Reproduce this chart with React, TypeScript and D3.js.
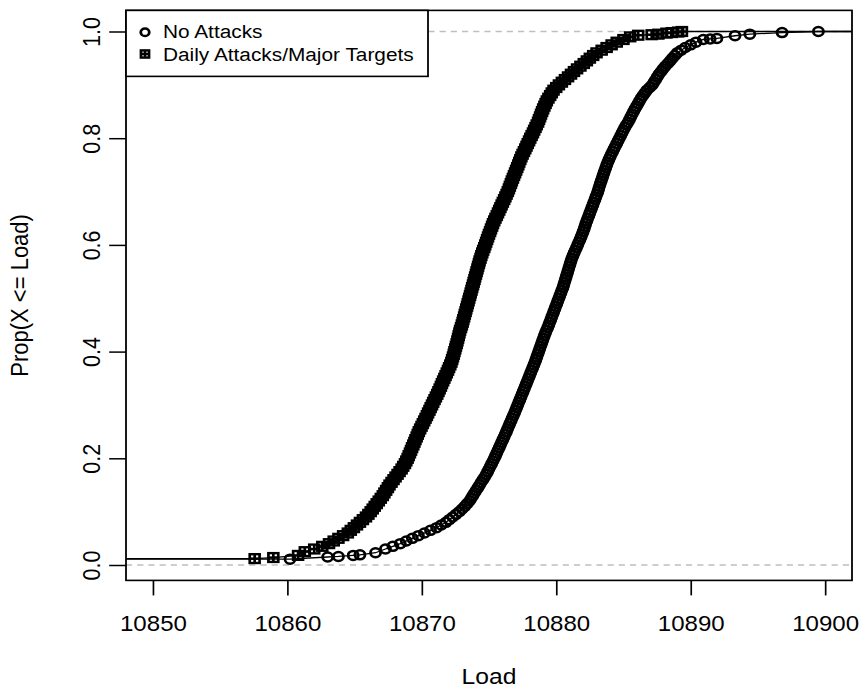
import React, { useEffect, useRef } from "react";
import * as d3 from "d3";

// ---------- data ----------
const xTicks = [10850, 10860, 10870, 10880, 10890, 10900];
const yTicks = [0, 0.2, 0.4, 0.6, 0.8, 1.0];
const xLimits = [10850, 10900];
const yLimits = [0.0107, 1.0];
const refLines = [0, 1];
const legendLabels = ["No Attacks", "Daily Attacks/Major Targets"];
const xLabel = "Load";
const yLabel = "Prop(X <= Load)";

// [load, cumulative proportion]
const noAttacks: [number, number][] = [
  [10860.2, 0.011], [10863.0, 0.015], [10863.8, 0.016], [10864.9, 0.018], [10865.4, 0.019], [10866.56, 0.023],
  [10867.3, 0.03], [10867.85, 0.035], [10868.4, 0.04], [10868.85, 0.045], [10869.3, 0.05], [10869.75, 0.055],
  [10870.2, 0.06], [10870.65, 0.065], [10871.1, 0.07], [10871.45, 0.075], [10871.8, 0.08], [10872.05, 0.085],
  [10872.3, 0.09], [10872.55, 0.095], [10872.8, 0.1], [10873.0, 0.105], [10873.2, 0.11], [10873.38, 0.115],
  [10873.55, 0.12], [10873.68, 0.125], [10873.8, 0.13], [10873.92, 0.135], [10874.05, 0.14], [10874.18, 0.145],
  [10874.3, 0.15], [10874.42, 0.155], [10874.55, 0.16], [10874.68, 0.165], [10874.8, 0.17], [10874.9, 0.175],
  [10875.0, 0.18], [10875.1, 0.185], [10875.2, 0.19], [10875.3, 0.195], [10875.4, 0.2], [10875.49, 0.205],
  [10875.58, 0.21], [10875.67, 0.215], [10875.76, 0.22], [10875.85, 0.225], [10875.94, 0.23], [10876.03, 0.235],
  [10876.12, 0.24], [10876.21, 0.245], [10876.3, 0.25], [10876.38, 0.255], [10876.47, 0.26], [10876.55, 0.265],
  [10876.64, 0.27], [10876.72, 0.275], [10876.81, 0.28], [10876.9, 0.285], [10876.98, 0.29], [10877.06, 0.295],
  [10877.14, 0.3], [10877.22, 0.305], [10877.3, 0.31], [10877.38, 0.315], [10877.46, 0.32], [10877.54, 0.325],
  [10877.62, 0.33], [10877.7, 0.335], [10877.78, 0.34], [10877.86, 0.345], [10877.94, 0.35], [10878.02, 0.355],
  [10878.1, 0.36], [10878.18, 0.365], [10878.26, 0.37], [10878.34, 0.375], [10878.42, 0.38], [10878.49, 0.385],
  [10878.56, 0.39], [10878.63, 0.395], [10878.7, 0.4], [10878.77, 0.405], [10878.84, 0.41], [10878.91, 0.415],
  [10878.98, 0.42], [10879.05, 0.425], [10879.12, 0.43], [10879.2, 0.435], [10879.28, 0.44], [10879.37, 0.445],
  [10879.45, 0.45], [10879.52, 0.455], [10879.6, 0.46], [10879.67, 0.465], [10879.75, 0.47], [10879.82, 0.475],
  [10879.9, 0.48], [10879.97, 0.485], [10880.05, 0.49], [10880.12, 0.495], [10880.2, 0.5], [10880.27, 0.505],
  [10880.35, 0.51], [10880.42, 0.515], [10880.5, 0.52], [10880.56, 0.525], [10880.62, 0.53], [10880.68, 0.535],
  [10880.74, 0.54], [10880.8, 0.545], [10880.86, 0.55], [10880.92, 0.555], [10880.98, 0.56], [10881.04, 0.565],
  [10881.1, 0.57], [10881.17, 0.575], [10881.25, 0.58], [10881.33, 0.585], [10881.42, 0.59], [10881.51, 0.595],
  [10881.6, 0.6], [10881.68, 0.605], [10881.77, 0.61], [10881.85, 0.615], [10881.93, 0.62], [10882.0, 0.625],
  [10882.08, 0.63], [10882.14, 0.635], [10882.2, 0.64], [10882.28, 0.645], [10882.35, 0.65], [10882.43, 0.655],
  [10882.5, 0.66], [10882.58, 0.665], [10882.65, 0.67], [10882.73, 0.675], [10882.8, 0.68], [10882.88, 0.685],
  [10882.95, 0.69], [10883.03, 0.695], [10883.1, 0.7], [10883.16, 0.705], [10883.22, 0.71], [10883.28, 0.715],
  [10883.35, 0.72], [10883.42, 0.725], [10883.48, 0.73], [10883.55, 0.735], [10883.62, 0.74], [10883.69, 0.745],
  [10883.76, 0.75], [10883.84, 0.755], [10883.92, 0.76], [10884.01, 0.765], [10884.1, 0.77], [10884.2, 0.775],
  [10884.3, 0.78], [10884.4, 0.785], [10884.5, 0.79], [10884.6, 0.795], [10884.7, 0.8], [10884.8, 0.805],
  [10884.9, 0.81], [10885.0, 0.815], [10885.1, 0.82], [10885.22, 0.825], [10885.35, 0.83], [10885.45, 0.835],
  [10885.55, 0.84], [10885.65, 0.845], [10885.75, 0.85], [10885.86, 0.855], [10885.98, 0.86], [10886.09, 0.865],
  [10886.2, 0.87], [10886.32, 0.875], [10886.45, 0.88], [10886.6, 0.885], [10886.75, 0.89], [10886.95, 0.895],
  [10887.15, 0.9], [10887.28, 0.905], [10887.4, 0.91], [10887.52, 0.915], [10887.65, 0.92], [10887.8, 0.925],
  [10887.95, 0.93], [10888.12, 0.935], [10888.3, 0.94], [10888.48, 0.945], [10888.65, 0.95], [10888.82, 0.955],
  [10889.0, 0.96], [10889.3, 0.965], [10889.6, 0.97], [10890.0, 0.975], [10890.4, 0.98],
  [10890.94, 0.985], [10891.45, 0.986], [10891.95, 0.987], [10893.3, 0.992], [10894.4, 0.995], [10896.8, 0.998],
  [10899.5, 1.0],
];

const dailyAttacks: [number, number][] = [
  [10857.57, 0.012], [10858.96, 0.014], [10860.8, 0.018], [10861.3, 0.025],
  [10862.0, 0.03], [10862.6, 0.035], [10863.1, 0.04], [10863.45, 0.045], [10863.8, 0.05], [10864.15, 0.055],
  [10864.5, 0.06], [10864.72, 0.065], [10864.95, 0.07], [10865.18, 0.075], [10865.4, 0.08], [10865.62, 0.085],
  [10865.85, 0.09], [10866.03, 0.095], [10866.2, 0.1], [10866.35, 0.105], [10866.5, 0.11], [10866.65, 0.115],
  [10866.8, 0.12], [10866.95, 0.125], [10867.1, 0.13], [10867.22, 0.135], [10867.35, 0.14], [10867.48, 0.145],
  [10867.6, 0.15], [10867.75, 0.155], [10867.9, 0.16], [10868.05, 0.165], [10868.2, 0.17], [10868.35, 0.175],
  [10868.5, 0.18], [10868.62, 0.185], [10868.75, 0.19], [10868.85, 0.195], [10868.95, 0.2], [10869.03, 0.205],
  [10869.12, 0.21], [10869.2, 0.215], [10869.28, 0.22], [10869.37, 0.225], [10869.45, 0.23], [10869.53, 0.235],
  [10869.62, 0.24], [10869.7, 0.245], [10869.78, 0.25], [10869.88, 0.255], [10869.98, 0.26], [10870.08, 0.265],
  [10870.18, 0.27], [10870.28, 0.275], [10870.38, 0.28], [10870.47, 0.285], [10870.57, 0.29], [10870.66, 0.295],
  [10870.76, 0.3], [10870.85, 0.305], [10870.95, 0.31], [10871.05, 0.315], [10871.15, 0.32], [10871.24, 0.325],
  [10871.33, 0.33], [10871.42, 0.335], [10871.5, 0.34], [10871.59, 0.345], [10871.68, 0.35], [10871.77, 0.355],
  [10871.86, 0.36], [10871.95, 0.365], [10872.03, 0.37], [10872.12, 0.375], [10872.2, 0.38], [10872.26, 0.385],
  [10872.32, 0.39], [10872.38, 0.395], [10872.43, 0.4], [10872.49, 0.405], [10872.54, 0.41], [10872.6, 0.415],
  [10872.65, 0.42], [10872.7, 0.425], [10872.75, 0.43], [10872.8, 0.435], [10872.85, 0.44], [10872.92, 0.445],
  [10872.98, 0.45], [10873.04, 0.455], [10873.09, 0.46], [10873.15, 0.465], [10873.2, 0.47], [10873.26, 0.475],
  [10873.31, 0.48], [10873.37, 0.485], [10873.42, 0.49], [10873.48, 0.495], [10873.53, 0.5], [10873.59, 0.505],
  [10873.64, 0.51], [10873.7, 0.515], [10873.75, 0.52], [10873.81, 0.525], [10873.86, 0.53], [10873.92, 0.535],
  [10873.97, 0.54], [10874.03, 0.545], [10874.08, 0.55], [10874.14, 0.555], [10874.19, 0.56], [10874.25, 0.565],
  [10874.3, 0.57], [10874.37, 0.575], [10874.43, 0.58], [10874.5, 0.585], [10874.57, 0.59], [10874.65, 0.595],
  [10874.72, 0.6], [10874.79, 0.605], [10874.86, 0.61], [10874.93, 0.615], [10875.0, 0.62], [10875.08, 0.625],
  [10875.15, 0.63], [10875.23, 0.635], [10875.3, 0.64], [10875.39, 0.645], [10875.48, 0.65], [10875.58, 0.655],
  [10875.67, 0.66], [10875.76, 0.665], [10875.85, 0.67], [10875.94, 0.675], [10876.03, 0.68], [10876.13, 0.685],
  [10876.22, 0.69], [10876.31, 0.695], [10876.4, 0.7], [10876.48, 0.705], [10876.55, 0.71], [10876.63, 0.715],
  [10876.7, 0.72], [10876.78, 0.725], [10876.86, 0.73], [10876.94, 0.735], [10877.02, 0.74], [10877.1, 0.745],
  [10877.18, 0.75], [10877.25, 0.755], [10877.33, 0.76], [10877.41, 0.765], [10877.5, 0.77], [10877.6, 0.775],
  [10877.7, 0.78], [10877.79, 0.785], [10877.88, 0.79], [10877.98, 0.795], [10878.07, 0.8], [10878.17, 0.805],
  [10878.27, 0.81], [10878.36, 0.815], [10878.46, 0.82], [10878.55, 0.825], [10878.65, 0.83], [10878.72, 0.835],
  [10878.8, 0.84], [10878.87, 0.845], [10878.95, 0.85], [10879.03, 0.855], [10879.12, 0.86], [10879.21, 0.865],
  [10879.3, 0.87], [10879.42, 0.875], [10879.55, 0.88], [10879.67, 0.885], [10879.8, 0.89], [10880.0, 0.895],
  [10880.2, 0.9], [10880.42, 0.905], [10880.65, 0.91], [10880.88, 0.915], [10881.1, 0.92], [10881.32, 0.925],
  [10881.55, 0.93], [10881.8, 0.935], [10882.05, 0.94], [10882.28, 0.945], [10882.5, 0.95], [10882.75, 0.955],
  [10883.0, 0.96], [10883.38, 0.965], [10883.75, 0.97], [10884.12, 0.975], [10884.5, 0.98], [10885.0, 0.985],
  [10885.5, 0.99], [10886.1, 0.993],
  [10887.1, 0.994], [10887.6, 0.995], [10888.2, 0.997], [10888.6, 0.998], [10889.07, 0.999], [10889.35, 1.0],
];

// ---------- layout ----------
const W = 865;
const H = 689;
const SX = 1.12; // horizontal stretch of the original rendering
const VW = W / SX;
const plot = { left: 126 / SX, right: 852 / SX };
const FONT = "'Liberation Sans', Arial, Helvetica, sans-serif";

function pad(lim: number[]) {
  const r = lim[1] - lim[0];
  return [lim[0] - 0.04 * r, lim[1] + 0.04 * r];
}

function Circle({ cx, cy, r = 4.5 }: { cx: number; cy: number; r?: number }) {
  return <circle cx={cx} cy={cy} r={r} fill="none" stroke="#000" strokeWidth={2.5} />;
}

function BoxPlus({ cx, cy, s = 4.4 }: { cx: number; cy: number; s?: number }) {
  return (
    <g transform={`translate(${cx},${cy})`} fill="none" stroke="#000" strokeWidth={2.4}>
      <rect x={-s} y={-s} width={2 * s} height={2 * s} />
      <line x1={-s} x2={s} y1={0} y2={0} />
      <line x1={0} x2={0} y1={-s} y2={s} />
    </g>
  );
}

export default function App() {
  const gx = useRef<SVGGElement>(null);
  const gy = useRef<SVGGElement>(null);

  const yDom = pad(yLimits);
  const yTop = 31.5 - (yDom[1] - 1) * 533.5;
  const yBot = 565 + (0 - yDom[0]) * 533.5;

  const x = d3.scaleLinear().domain(pad(xLimits)).range([plot.left, plot.right]);
  const y = d3.scaleLinear().domain(yDom).range([yBot, yTop]);

  useEffect(() => {
    if (gx.current) {
      const g = d3.select(gx.current);
      g.selectAll("*").remove();
      g.call(d3.axisBottom(x).tickValues(xTicks).tickSize(15).tickFormat(d3.format("d")) as any);
      g.select(".domain").remove();
      g.selectAll(".tick line").attr("stroke", "#000").attr("stroke-width", 1.5);
      g.selectAll(".tick text")
        .attr("y", 50.2)
        .attr("dy", null)
        .attr("fill", "#000")
        .style("font-family", FONT)
        .style("font-size", "21.5px");
    }
    if (gy.current) {
      const g = d3.select(gy.current);
      g.selectAll("*").remove();
      g.call(d3.axisLeft(y).tickValues(yTicks).tickSize(15).tickFormat(d3.format(".1f")) as any);
      g.select(".domain").remove();
      g.selectAll(".tick line").attr("stroke", "#000").attr("stroke-width", 1.5);
      g.selectAll(".tick text")
        .attr("x", 0)
        .attr("y", -23.2)
        .attr("dy", null)
        .attr("transform", "rotate(-90)")
        .attr("text-anchor", "middle")
        .attr("fill", "#000")
        .style("font-family", FONT)
        .style("font-size", "21.5px");
    }
  });

  const xd = x.domain();
  const line = d3
    .line<[number, number]>()
    .x((d) => x(d[0]))
    .y((d) => y(d[1]));
  const withTails = (s: [number, number][]): [number, number][] => [
    [xd[0], s[0][1]],
    ...s,
    [xd[1], s[s.length - 1][1]],
  ];

  const legX = plot.left;
  const legY = yTop;
  const legW = (428 - 126) / SX;
  const legH = 66;

  return (
    <svg
      width={W}
      height={H}
      viewBox={`0 0 ${VW} ${H}`}
      preserveAspectRatio="none"
      style={{ position: "absolute", left: 0, top: 0, background: "#fff" }}
    >
      <rect x={0} y={0} width={VW} height={H} fill="#fff" />
      {/* reference lines */}
      {refLines.map((v) => (
        <line
          key={v}
          x1={plot.left}
          x2={plot.right}
          y1={y(v)}
          y2={y(v)}
          stroke="#bebebe"
          strokeWidth={1.5}
          strokeDasharray="5.5,4.5"
        />
      ))}
      {/* series lines */}
      <path d={line(withTails(noAttacks)) || ""} fill="none" stroke="#000" strokeWidth={1.3} />
      <path d={line(withTails(dailyAttacks)) || ""} fill="none" stroke="#000" strokeWidth={1.3} />
      {/* markers */}
      <g>
        {noAttacks.map((d, i) => (
          <Circle key={"n" + i} cx={x(d[0])} cy={y(d[1])} />
        ))}
      </g>
      <g>
        {dailyAttacks.map((d, i) => (
          <BoxPlus key={"d" + i} cx={x(d[0])} cy={y(d[1])} />
        ))}
      </g>
      {/* plot box */}
      <rect
        x={plot.left}
        y={yTop}
        width={plot.right - plot.left}
        height={yBot - yTop}
        fill="none"
        stroke="#000"
        strokeWidth={1.6}
      />
      {/* axes */}
      <g ref={gx} transform={`translate(0,${yBot})`} />
      <g ref={gy} transform={`translate(${plot.left},0)`} />
      {/* axis titles */}
      <text
        x={(plot.left + plot.right) / 2}
        y={684}
        textAnchor="middle"
        fontFamily={FONT}
        fontSize={22}
        fill="#000"
      >
        {xLabel}
      </text>
      <text
        transform={`translate(${28 / SX},${(yTop + yBot) / 2}) rotate(-90)`}
        textAnchor="middle"
        fontFamily={FONT}
        fontSize={22}
        fill="#000"
      >
        {yLabel}
      </text>
      {/* legend */}
      <g>
        <rect x={legX} y={legY} width={legW} height={legH} fill="#fff" stroke="#000" strokeWidth={1.6} />
        <Circle cx={145 / SX} cy={32.3} r={3.8} />
        <BoxPlus cx={145 / SX} cy={54} s={3.6} />
        <text x={163 / SX} y={38.5} fontFamily={FONT} fontSize={18.6} fill="#000">
          {legendLabels[0]}
        </text>
        <text x={163 / SX} y={61} fontFamily={FONT} fontSize={18.6} fill="#000">
          {legendLabels[1]}
        </text>
      </g>
    </svg>
  );
}
